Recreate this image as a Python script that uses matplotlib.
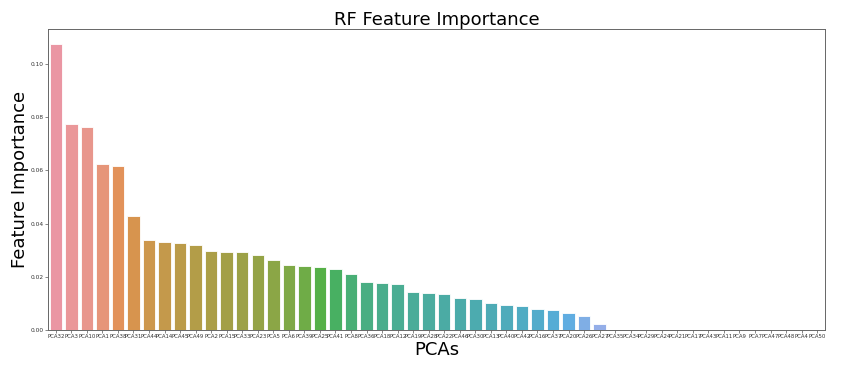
import matplotlib
matplotlib.use("Agg")
import matplotlib.pyplot as plt
import seaborn as sns

labels = ["PCA32", "PCA3", "PCA10", "PCA1", "PCA38", "PCA31", "PCA44", "PCA14", "PCA45", "PCA49",
          "PCA2", "PCA15", "PCA33", "PCA23", "PCA5", "PCA6", "PCA39", "PCA25", "PCA41", "PCA8",
          "PCA36", "PCA18", "PCA12", "PCA19", "PCA28", "PCA22", "PCA46", "PCA30", "PCA13", "PCA40",
          "PCA42", "PCA16", "PCA37", "PCA20", "PCA26", "PCA27", "PCA35", "PCA34", "PCA29", "PCA24",
          "PCA21", "PCA17", "PCA43", "PCA11", "PCA9", "PCA7", "PCA47", "PCA48", "PCA4", "PCA50"]
importance = [0.1075, 0.0774, 0.0763, 0.0624, 0.0617, 0.0429, 0.0338, 0.0331, 0.0327, 0.0320,
              0.0297, 0.0293, 0.0293, 0.0282, 0.0263, 0.0244, 0.0241, 0.0237, 0.0229, 0.0211,
              0.0180, 0.0177, 0.0173, 0.0143, 0.0139, 0.0135, 0.0120, 0.0117, 0.0102, 0.0094,
              0.0090, 0.0079, 0.0075, 0.0064, 0.0053, 0.0023, 0.0001, 0.0, 0.0, 0.0,
              0.0, 0.0, 0.0, 0.0, 0.0, 0.0, 0.0, 0.0, 0.0, 0.0]

pal = sns.husl_palette(len(labels), l=.7)
colors = [sns.desaturate(c, 0.75) for c in pal]

fig = plt.figure(figsize=(8.54, 3.65), dpi=100)
ax = fig.add_axes([0.0562, 0.096, 0.9098, 0.825])
x = list(range(len(labels)))
ax.bar(x, importance, width=0.8, color=colors, edgecolor="white", linewidth=0.6)
ax.set_xlim(-0.5, len(labels) - 0.5)
ax.set_ylim(0, 0.1132)
ax.set_xticks(x)
ax.set_xticklabels(labels, fontsize=3.9, color="#333333")
ax.set_yticks([0.0, 0.02, 0.04, 0.06, 0.08, 0.10])
ax.set_yticklabels(["0.00", "0.02", "0.04", "0.06", "0.08", "0.10"], fontsize=4.2, color="#333333")
ax.tick_params(axis="both", length=2, width=0.5, pad=1.2, color="#555555")
for s in ax.spines.values():
    s.set_color("#666666")
    s.set_linewidth(0.7)
ax.set_title("RF Feature Importance", fontsize=13, pad=2)
ax.set_ylabel("Feature Importance", fontsize=13)
ax.yaxis.set_label_coords(-0.024, 0.5)
ax.set_xlabel("PCAs", fontsize=13, labelpad=1)
fig.savefig("out.png", dpi=100)
